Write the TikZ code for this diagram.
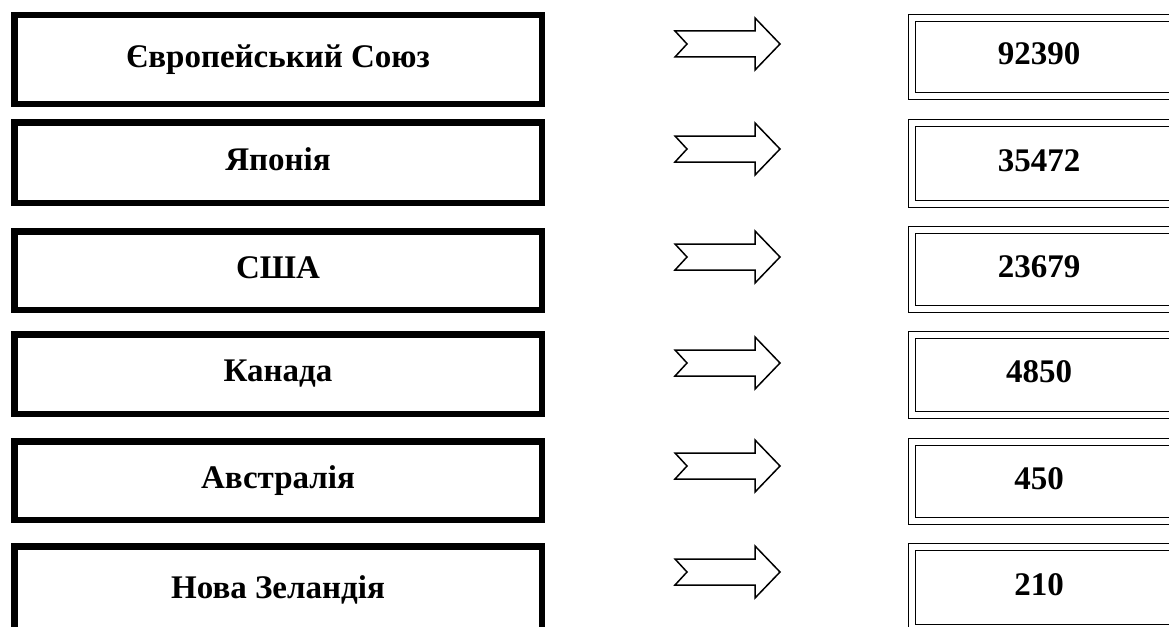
\documentclass[tikz,border=0pt]{standalone}
\usepackage{fontspec}
\setmainfont{Liberation Serif}
\begin{document}
\begin{tikzpicture}[x=1pt,y=-1pt,
  txt/.style={font=\bfseries\fontsize{33}{38}\selectfont, text height=21pt, text depth=6pt},
  leftbox/.style={draw, line width=6.5pt, inner sep=0pt, minimum width=527.5pt, txt},
  rightbox/.style={draw, double, line width=1.4pt, double distance=5.6pt, inner sep=0pt, minimum width=277.8pt},
  numtext/.style={txt, inner sep=0pt},
  blockarrow/.style={draw, line width=1.5pt, line join=miter, fill=white}]
\useasboundingbox (0,0) rectangle (1169,626);
\fill[white] (0,0) rectangle (1169,626);
\clip (0,0) rectangle (1169,626);
% left boxes
\node[leftbox, minimum height=88.5pt] (L1) at (278,59.5) {Європейський Союз};
\node[leftbox, minimum height=80.5pt] (L2) at (278,162.5) {Японія};
\node[leftbox, minimum height=78.5pt] (L3) at (278,270.5) {США};
\node[leftbox, minimum height=79.5pt] (L4) at (278,374) {Канада};
\node[leftbox, minimum height=78.5pt] (L5) at (278,480.5) {Австралія};
\node[leftbox, minimum height=89pt] (L6) at (278,590.75) {Нова Зеландія};
% right boxes
\node[rightbox, minimum height=77.6pt] (R1) at (1051.1,57) {};
\node[rightbox, minimum height=80.6pt] (R2) at (1051.1,163.5) {};
\node[rightbox, minimum height=78.6pt] (R3) at (1051.1,269.5) {};
\node[rightbox, minimum height=79.6pt] (R4) at (1051.1,375) {};
\node[rightbox, minimum height=78.6pt] (R5) at (1051.1,481.5) {};
\node[rightbox, minimum height=80.6pt] (R6) at (1051.1,587.5) {};
% numbers
\node[numtext] (N1) at (1039,57) {92390};
\node[numtext] (N2) at (1039,163.5) {35472};
\node[numtext] (N3) at (1039,269.5) {23679};
\node[numtext] (N4) at (1039,375) {4850};
\node[numtext] (N5) at (1039,481.5) {450};
\node[numtext] (N6) at (1039,587.5) {210};
% block arrows
\foreach \i/\y in {1/44,2/149,3/257,4/363,5/466,6/572}{
  \coordinate (A\i) at (727.5,\y);
  \draw[blockarrow, shift={(A\i)}] (-52.5,-13) -- (27.5,-13) -- (27.5,-26) -- (52.5,0)
     -- (27.5,26) -- (27.5,13) -- (-52.5,13) -- (-40.5,0) -- cycle;
}
\end{tikzpicture}
\end{document}
